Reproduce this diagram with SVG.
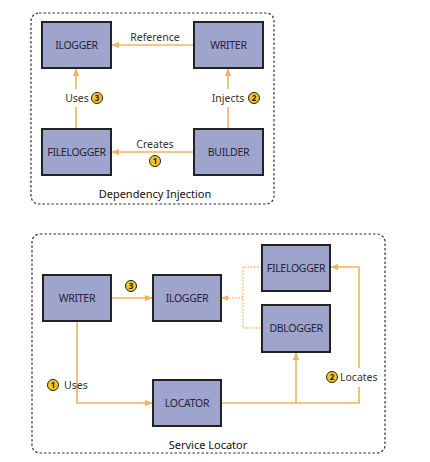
<svg xmlns="http://www.w3.org/2000/svg" width="430" height="462" viewBox="0 0 430 462">
<defs>
<style>
.frame{fill:none;stroke:#333;stroke-width:1.2;stroke-dasharray:2.5 2}
.box{fill:#9fa4cc;stroke:#222;stroke-width:2}
.lbl{font-family:"Noto Sans","Liberation Sans",sans-serif;font-size:10.5px;letter-spacing:-0.3px;fill:#23233a;text-anchor:middle}
.txt{font-family:"Noto Sans","Liberation Sans",sans-serif;font-size:10.5px;fill:#333}
.ttl{font-family:"Noto Sans","Liberation Sans",sans-serif;font-size:11px;fill:#111;text-anchor:middle}
.ln{fill:none;stroke:#f0b45a;stroke-width:1.6}
.dash{fill:none;stroke:#f0c060;stroke-width:1.4;stroke-dasharray:1.6 1.6}
.num{fill:#f7c526;stroke:#222;stroke-width:1}
.numt{font-family:"Noto Sans","Liberation Sans",sans-serif;font-size:8px;font-weight:bold;fill:#222;text-anchor:middle}
</style>
<marker id="ah" viewBox="0 0 10 10" refX="9" refY="5" markerWidth="5" markerHeight="5" orient="auto">
<path d="M0,1 L10,5 L0,9 z" fill="#f0b45a"/>
</marker>
</defs>
<rect width="430" height="462" fill="#fff"/>

<!-- Dependency Injection -->
<g id="di-frame">
<rect class="frame" x="31" y="13" width="243" height="191" rx="8"/>
<text class="ttl" x="155" y="198">Dependency Injection</text>
</g>
<g id="connectors-di">
<line class="ln" x1="194" y1="45" x2="112" y2="45" marker-end="url(#ah)"/>
<line class="ln" x1="194" y1="152" x2="112" y2="152" marker-end="url(#ah)"/>
<path class="ln" d="M76,129 V107 M76,89 V69" marker-end="url(#ah)"/>
<path class="ln" d="M228,129 V107 M228,89 V69" marker-end="url(#ah)"/>
<text class="txt" x="155" y="41" text-anchor="middle">Reference</text>
<text class="txt" x="155" y="148" text-anchor="middle">Creates</text>
<text class="txt" x="77" y="102" text-anchor="middle">Uses</text>
<text class="txt" x="228" y="102" text-anchor="middle">Injects</text>
<circle class="num" cx="155" cy="161" r="5.5"/><text class="numt" x="155" y="164">1</text>
<circle class="num" cx="254" cy="98" r="5.5"/><text class="numt" x="254" y="101">2</text>
<circle class="num" cx="97" cy="98" r="5.5"/><text class="numt" x="97" y="101">3</text>
</g>
<g id="di-ilogger"><rect class="box" x="42" y="22" width="69" height="46"/><text class="lbl" x="76.5" y="49">ILOGGER</text></g>
<g id="di-writer"><rect class="box" x="194" y="22" width="69" height="46"/><text class="lbl" x="228.5" y="49">WRITER</text></g>
<g id="di-filelogger"><rect class="box" x="42" y="129" width="69" height="46"/><text class="lbl" x="76.5" y="156">FILELOGGER</text></g>
<g id="di-builder"><rect class="box" x="194" y="129" width="69" height="46"/><text class="lbl" x="228.5" y="156">BUILDER</text></g>

<!-- Service Locator -->
<g id="sl-frame">
<rect class="frame" x="32" y="234" width="353" height="219" rx="8"/>
<text class="ttl" x="208" y="449">Service Locator</text>
</g>
<g id="connectors-sl">
<line class="ln" x1="111" y1="298" x2="152" y2="298" marker-end="url(#ah)"/>
<path class="dash" d="M262,267 H243 V328 H262"/>
<line class="dash" x1="243" y1="298" x2="222" y2="298" marker-end="url(#ah)"/>
<path class="ln" d="M77,321 V403 H152" marker-end="url(#ah)"/>
<path class="ln" d="M221,403 H359 V387 M359,368 V267 H331" marker-end="url(#ah)"/>
<line class="ln" x1="296" y1="403" x2="296" y2="353" marker-end="url(#ah)"/>
<circle class="num" cx="131" cy="286" r="5.5"/><text class="numt" x="131" y="289">3</text>
<circle class="num" cx="53" cy="385" r="5.5"/><text class="numt" x="53" y="388">1</text>
<text class="txt" x="64" y="389">Uses</text>
<circle class="num" cx="332" cy="377" r="5.5"/><text class="numt" x="332" y="380">2</text>
<text class="txt" x="340" y="381">Locates</text>
</g>
<g id="sl-writer"><rect class="box" x="43" y="275" width="68" height="46"/><text class="lbl" x="77" y="302">WRITER</text></g>
<g id="sl-ilogger"><rect class="box" x="153" y="275" width="68" height="46"/><text class="lbl" x="187" y="302">ILOGGER</text></g>
<g id="sl-filelogger"><rect class="box" x="262" y="245" width="68" height="46"/><text class="lbl" x="296" y="272">FILELOGGER</text></g>
<g id="sl-dblogger"><rect class="box" x="262" y="305" width="68" height="47"/><text class="lbl" x="296" y="332">DBLOGGER</text></g>
<g id="sl-locator"><rect class="box" x="153" y="380" width="68" height="46"/><text class="lbl" x="187" y="407">LOCATOR</text></g>
</svg>
